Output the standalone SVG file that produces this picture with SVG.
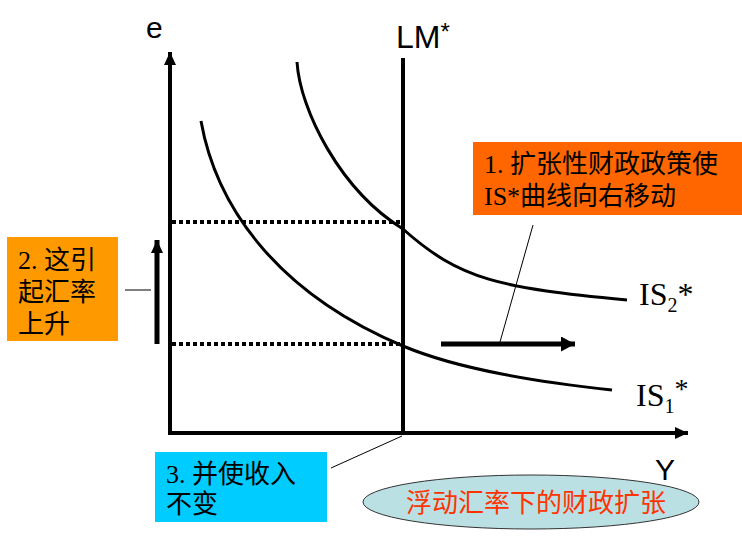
<svg xmlns="http://www.w3.org/2000/svg" width="742" height="537" viewBox="0 0 742 537">
<style>
.ax{stroke:#000;stroke-width:4;fill:none}
.crv{stroke:#000;stroke-width:3;fill:none}
.dot{stroke:#000;stroke-width:4;stroke-dasharray:4 3;fill:none}
.thin{stroke:#000;stroke-width:1;fill:none}
.sans{font-family:"Liberation Sans","Noto Sans CJK SC",sans-serif}
.serif{font-family:"Liberation Serif","Noto Sans CJK SC",serif}
.box{font-family:"Liberation Serif","Noto Sans CJK SC",serif;font-size:26px;fill:#000}
</style>
<defs>
<marker id="ah" markerWidth="13" markerHeight="12" refX="13" refY="6" orient="auto" markerUnits="userSpaceOnUse" viewBox="0 0 13 12">
<path d="M0,0 L13,6 L0,12 z" fill="#000"/>
</marker>
<marker id="ah2" markerWidth="14" markerHeight="15" refX="14" refY="7.5" orient="auto" markerUnits="userSpaceOnUse" viewBox="0 0 14 15">
<path d="M0,0 L14,7.5 L0,15 z" fill="#000"/>
</marker>
</defs>
<rect width="742" height="537" fill="#fff"/>
<g id="connectors">
<line class="ax" x1="170" y1="433" x2="170" y2="52" marker-end="url(#ah)"/>
<line class="ax" x1="168" y1="433" x2="688" y2="433" marker-end="url(#ah)"/>
<line class="ax" x1="403" y1="58" x2="403" y2="435"/>
<line class="dot" x1="172" y1="222" x2="401" y2="222"/>
<line class="dot" x1="172" y1="344" x2="401" y2="344"/>
<path class="crv" d="M201,121 C215,200 270,290 403,346 C460,370 540,382 612,390"/>
<path class="crv" d="M297,62 C300,110 340,190 403,229 C460,280 500,288 627,300"/>
<line x1="157" y1="344" x2="157" y2="240" stroke="#000" stroke-width="5" marker-end="url(#ah)"/>
<line x1="441" y1="344" x2="575" y2="344" stroke="#000" stroke-width="5" marker-end="url(#ah2)"/>
<line class="thin" x1="533" y1="225" x2="500" y2="342"/>
<line class="thin" x1="125" y1="290" x2="151" y2="290"/>
<line class="thin" x1="331" y1="468" x2="402" y2="436"/>
</g>
<g id="label-e"><text class="sans" x="146" y="38" font-size="30">e</text></g>
<g id="label-LM"><text class="sans" x="396" y="48" font-size="32">LM<tspan font-size="24" dy="-8">*</tspan></text></g>
<g id="label-Y"><text class="sans" x="655" y="480" font-size="30">Y</text></g>
<g id="label-IS2"><text class="serif" x="639" y="305" font-size="32">IS<tspan font-size="20" dy="7">2</tspan><tspan dy="-7">*</tspan></text></g>
<g id="label-IS1"><text class="serif" x="636" y="406" font-size="32">IS<tspan font-size="20" dy="7">1</tspan><tspan dy="-15" font-size="28">*</tspan></text></g>
<g id="box1">
<rect x="473" y="142" width="269" height="73" fill="#FF6600"/>
<text class="box" x="484" y="173">1. 扩张性财政政策使</text>
<text class="box" x="484" y="205">IS*曲线向右移动</text>
</g>
<g id="box2">
<rect x="7" y="237" width="111" height="104" fill="#FF9900"/>
<text class="box" x="18" y="269">2. 这引</text>
<text class="box" x="18" y="301">起汇率</text>
<text class="box" x="18" y="333">上升</text>
</g>
<g id="box3">
<rect x="155" y="452" width="172" height="70" fill="#00CCFF"/>
<text class="box" x="166" y="483">3. 并使收入</text>
<text class="box" x="166" y="513">不变</text>
</g>
<g id="title">
<ellipse cx="531" cy="502" rx="168" ry="27" fill="#BBE0E3" stroke="#333" stroke-width="1"/>
<text x="536" y="512" text-anchor="middle" font-family="Liberation Sans,'Noto Sans CJK SC',sans-serif" font-size="26" fill="#FF3300">浮动汇率下的财政扩张</text>
</g>
</svg>
